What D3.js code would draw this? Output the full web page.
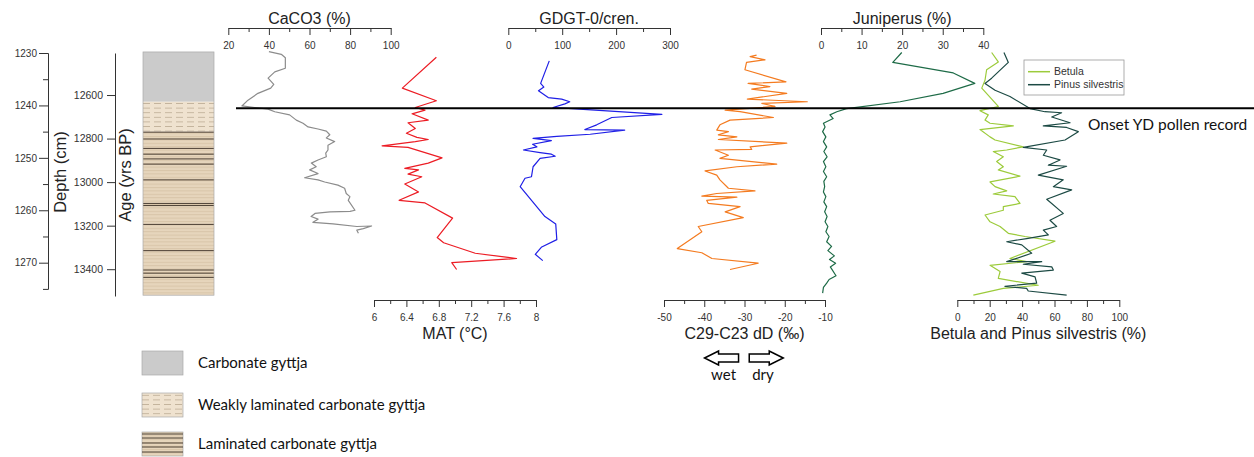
<!DOCTYPE html>
<html>
<head>
<meta charset="utf-8">
<script src="https://cdn.jsdelivr.net/npm/d3@7"></script>
<style>
body{margin:0;background:#fff;}
svg{display:block;}
</style>
</head>
<body>
<div id="chart"></div>
<script>
// depths in cm
let caco3Depth = [1229.75,1230.25,1230.9,1232.9,1233.6,1234.8,1236,1236.7,1237.7,1239,1240.1,1240.4,1240.7,1241.2,1241.8,1242.8,1243.4,1244.1,1244.5,1244.9,1245.6,1246.2,1246.9,1247.6,1248.5,1249.1,1249.8,1250.4,1251,1251.7,1252.3,1253,1253.8,1254.2,1254.6,1255.2,1255.8,1256.8,1257.4,1258.1,1260,1260.2,1260.3,1260.6,1261.2,1261.7,1262.3,1262.6,1263.1,1263,1263.5,1263.8,1264.4];
let caco3Values = [40,46.1,48.1,48.1,42.9,39.6,42.4,40.9,34.6,29.7,26.7,33,39.6,42.9,50.2,53.5,56.8,59.3,64.2,68.3,70,68.3,72.4,69.1,69.1,68,68.3,64.2,60.9,63.3,60.1,64.2,57.6,64.2,67.5,74,77.3,78.1,79.9,79.1,82.4,80,70.1,62.7,60.8,64.2,61.7,71.6,83.3,90.6,86.5,83.3,84.1];

let matDepth = [1230.8,1236.7,1239.1,1240.4,1240.9,1241.6,1242.8,1243.3,1244.4,1245.3,1246.1,1246.5,1246.9,1247.7,1248,1250,1251,1252,1252.3,1253.1,1253.6,1255,1256.5,1258.1,1258.6,1261.5,1265.2,1266.2,1268.2,1269.2,1270,1271.3];
let matValues = [6.77,6.35,6.77,6.51,6.63,6.47,6.67,6.42,6.51,6.40,6.53,6.67,6.51,6.10,6.42,6.84,6.67,6.38,6.55,6.42,6.59,6.38,6.55,6.31,6.63,6.97,6.78,6.86,7.25,7.76,6.96,7.02];

let gdgtDepth = [1231.5,1235.8,1236.5,1237.2,1238.5,1238.8,1239.3,1239.7,1240.4,1240.7,1241.7,1242.3,1243.7,1244.6,1244.7,1245.5,1245.9,1246.3,1246.7,1247.4,1247.9,1248.5,1249,1249.3,1249.7,1250.1,1251.7,1253.6,1253.9,1255.5,1261.2,1262.6,1265.6,1267,1268.4,1269.6];
let gdgtValues = [76,60,66,56,74,99,114,105,83,132,285,192,164,142,216,152,90,46,80,45,53,28,59,80,87,59,46,43,31,22,68,88,90,62,50,64];

let dDDepth = [1230.4,1230.7,1231.3,1231.8,1233.2,1235.5,1235.8,1236.4,1236.9,1237.7,1238.8,1239.3,1239.6,1240.2,1240.9,1241.2,1242.3,1242.8,1243.7,1244.7,1245,1245.6,1246,1246.5,1247.2,1247.9,1248.4,1248.5,1249.5,1250.1,1251.2,1251.7,1252.5,1253.3,1254.2,1255.8,1256.3,1256.8,1257.3,1257.5,1258.1,1258.7,1259.3,1260.3,1261.4,1263.1,1264.1,1267.3,1268.1,1269.2,1270.1,1271.3];
let dDValues = [-27,-28.6,-24.9,-29.5,-29.9,-19.7,-29.1,-23.7,-28.2,-19.5,-29.3,-14.4,-25.7,-22.4,-34.8,-31.1,-22.8,-33.6,-36.1,-36.9,-34,-36.5,-31.9,-36.5,-19.5,-28.6,-28.2,-37.3,-34,-36.1,-22,-31.9,-39.8,-36.9,-36.1,-34,-27.4,-36.9,-40.6,-31.9,-39.4,-39,-31.1,-34.8,-30.3,-41.5,-40.6,-46.7,-40.6,-38.1,-26.6,-33.6];

let junDepth = [1229.9,1231.8,1233.8,1235.8,1237.7,1239.3,1240.6,1241.2,1241.8,1242.5,1243.4,1244.1,1245,1246,1246.9,1247.9,1248.8,1249.8,1250.7,1251.7,1252.6,1253.6,1254.5,1255.5,1256.5,1257.4,1258.4,1259.3,1260.3,1261.2,1262.2,1263.1,1264.1,1265,1266,1266.9,1267.7,1268.7,1269.4,1270.1,1270.8,1272.5,1273.2,1273.9,1274.7,1275.8];
let junValues = [19.9,17.7,32.6,37.9,30.1,19.5,6.3,3.9,2.2,3,0.6,1,0.4,1.2,0.6,1.4,0.7,1.5,0.6,1.2,0.6,1.4,0.7,0.9,0.6,1.2,0.7,1.4,0.9,1.5,1,1.7,1.2,2,1.4,2.6,1.7,3.3,2.1,3.6,2.3,3.7,2,1.4,0.6,0.4];

let betulaDepth = [1229.9,1231.7,1233.2,1235.2,1236.7,1240.2,1241,1241.8,1242.8,1243.4,1243.9,1244.6,1246,1246.6,1247.9,1248.5,1248.8,1249.8,1250.7,1251.7,1252.3,1253.5,1254.6,1255.5,1256.3,1256.9,1257.4,1258.7,1259.3,1260,1260.9,1262.2,1263.1,1264.4,1265,1265.9,1269.2,1269.8,1270.5,1271.7,1273,1274.3,1274.9,1276.2];
let betulaValues = [21.2,25.3,18.1,17.1,15.1,25.3,14,19.1,17.1,20.2,34.6,14,20.2,23.3,40.7,30.5,22.2,28.4,24.3,28.4,25.3,38.7,20.2,23.3,30.5,22.2,35.6,38.7,28.4,28.4,17.1,20.2,26.4,31.5,41.8,60.3,32.5,42.8,20.2,26.4,25.3,50,28.4,9.9];

let pinusDepth = [1229.9,1231.8,1234.8,1235.8,1237.1,1238.3,1240.6,1241.2,1241.4,1242.2,1243.3,1243.9,1244.2,1245,1246.6,1248,1248.5,1249.5,1250.4,1251.4,1251.6,1253.3,1254.2,1255.5,1256.1,1257.9,1260.6,1261.9,1263.1,1263.8,1264.7,1265.4,1266,1266.6,1268.2,1269.8,1269.8,1270.3,1270.8,1271.4,1272,1272.7,1273.9,1274.5,1274.9,1275.4,1276.2];
let pinusValues = [28.8,31.5,21.2,17.1,23.3,32.5,44.9,54.1,64.4,58.3,69.6,53.1,67.5,74.7,66.5,40.7,55.2,53.1,63.4,56.2,67.5,50,65.4,59.3,70.6,55.2,65.4,57.2,61.3,53.1,56.2,42.8,30.5,39.8,45.9,30.5,52.1,40.7,58.3,59.3,39.8,48,49,29.4,42.8,43.8,67.5];

// lithology (cm): carbonate gyttja / weakly laminated / laminated
let lithoUnits = ["Carbonate gyttja","Weakly laminated carbonate gyttja","Laminated carbonate gyttja"];
let lithoTops = [1229.8,1239.3,1245.0];
let lithoBase = 1276.2;
let laminaDepths = [1245.1,1246.4,1248.2,1249.3,1250.2,1251.2,1254.2,1258.7,1259.1,1262.7,1267.7,1271.4,1272,1272.8];
let ydOnsetDepth = 1240.55;

let depthTicks = [1230,1240,1250,1260,1270];
let depthMinor = [1235,1245,1255,1265,1275];
let ageTicks = [12600,12800,13000,13200,13400];
let caco3Ticks = [20,40,60,80,100], caco3Minor = [30,50,70,90];
let matTicks = [6,6.4,6.8,7.2,7.6,8], matMinor = [6.2,6.6,7,7.4,7.8];
let gdgtTicks = [0,100,200,300], gdgtMinor = [50,150,250];
let dDTicks = [-50,-40,-30,-20,-10], dDMinor = [-45,-35,-25,-15];
let junTicks = [0,10,20,30,40], junMinor = [5,15,25,35];
let pollenTicks = [0,20,40,60,80,100], pollenMinor = [10,30,50,70,90];

let svg = d3.select("#chart").append("svg")
    .attr("width",1254)
    .attr("height",457);

let axisFont = "'Liberation Sans', Arial, sans-serif";
let noteFont = "Lato, 'Open Sans', sans-serif";
let ink = "#333";

let y = d3.scaleLinear().domain([1230,1275]).range([53,288.9]);
let ageY = d3.scaleLinear().domain([12407,13523]).range([53,296]);

// patterns for the lithology column
let defs = svg.append("defs");
let lam = defs.append("pattern").attr("id","lam").attr("patternUnits","userSpaceOnUse")
    .attr("width",10).attr("height",3.4);
lam.append("rect").attr("width",10).attr("height",3.4).attr("fill","#e6d5bc");
lam.append("rect").attr("width",10).attr("height",1).attr("fill","#d8c5a9");
let weak = defs.append("pattern").attr("id","weak").attr("patternUnits","userSpaceOnUse")
    .attr("width",11).attr("height",4.6);
weak.append("rect").attr("width",11).attr("height",4.6).attr("fill","#efe2cf");
weak.append("line").attr("x1",0).attr("x2",7).attr("y1",2.3).attr("y2",2.3)
    .attr("stroke","#bcab93").attr("stroke-width",0.8);
let fills = ["#cbcbcb","url(#weak)","url(#lam)"];

function styleAxis(g){
    g.selectAll("path, line").attr("stroke",ink).attr("stroke-width",1);
    g.attr("font-family",axisFont).attr("font-size",10.5);
    g.selectAll("text").attr("fill",ink);
}

// depth axis
let dg = svg.append("g").attr("transform","translate(48,0)");
dg.call(d3.axisLeft(y).tickValues(depthMinor).tickSize(5).tickSizeOuter(0).tickFormat(""));
dg.append("g").call(d3.axisLeft(y).tickValues(depthTicks).tickSize(9).tickSizeOuter(0).tickPadding(2).tickFormat(d3.format("d")));
styleAxis(dg);
svg.append("text").attr("transform","translate(66,172) rotate(-90)")
    .attr("text-anchor","middle").attr("font-family",axisFont).attr("font-size",16.5)
    .attr("fill","#222").text("Depth (cm)");

// age axis
let ag = svg.append("g").attr("transform","translate(115,0)");
ag.call(d3.axisLeft(ageY).tickValues(ageTicks).tickSize(8).tickSizeOuter(0).tickPadding(4).tickFormat(d3.format("d")));
styleAxis(ag);
svg.append("text").attr("transform","translate(131,175) rotate(-90)")
    .attr("text-anchor","middle").attr("font-family",axisFont).attr("font-size",16.5)
    .attr("fill","#222").text("Age (yrs BP)");

// lithology column
let litho = lithoTops.map(function(t,i){ return {top:t, bottom: i<lithoTops.length-1 ? lithoTops[i+1] : lithoBase, fill:fills[i]}; });
svg.selectAll(".litho").data(litho).enter().append("rect")
    .attr("class","litho")
    .attr("x",143).attr("width",71)
    .attr("y",function(d){return y(d.top);})
    .attr("height",function(d){return y(d.bottom)-y(d.top);})
    .attr("fill",function(d){return d.fill;});
svg.selectAll(".lamina").data(laminaDepths).enter().append("line")
    .attr("class","lamina")
    .attr("x1",143).attr("x2",214)
    .attr("y1",function(d){return y(d);}).attr("y2",function(d){return y(d);})
    .attr("stroke","#3b2f25").attr("stroke-width",0.9);
svg.append("rect").attr("x",143).attr("width",71)
    .attr("y",y(lithoTops[0])).attr("height",y(lithoBase)-y(lithoTops[0]))
    .attr("fill","none").attr("stroke","#a9a9a9").attr("stroke-width",0.7);

// one axis per record
function drawAxis(scale, yPos, major, minor, title, titleBelow){
    let g = svg.append("g").attr("transform","translate(0,"+yPos+")");
    g.call(d3.axisBottom(scale).tickValues(minor).tickSize(4).tickSizeOuter(0).tickFormat(""));
    g.append("g").call(d3.axisBottom(scale).tickValues(major).tickSize(7).tickSizeOuter(0).tickPadding(7)
        .tickFormat(function(d){return String(+d.toFixed(2));}));
    styleAxis(g);
    let r = scale.range();
    svg.append("text")
        .attr("x",(r[0]+r[1])/2)
        .attr("y", titleBelow ? yPos+39 : yPos-4)
        .attr("text-anchor","middle")
        .attr("font-family",axisFont).attr("font-size",16)
        .attr("fill","#222")
        .text(title);
}

let xCaco3 = d3.scaleLinear().domain([20,100]).range([228.3,390.7]);
let xMat = d3.scaleLinear().domain([6,8]).range([374,536]);
let xGdgt = d3.scaleLinear().domain([0,300]).range([508.3,670]);
let xDD = d3.scaleLinear().domain([-50,-10]).range([664,825]);
let xJun = d3.scaleLinear().domain([0,40]).range([821,983.3]);
let xPollen = d3.scaleLinear().domain([0,100]).range([957.3,1119.3]);

drawAxis(xCaco3, 28, caco3Ticks, caco3Minor, "CaCO3 (%)", false);
drawAxis(xGdgt, 28, gdgtTicks, gdgtMinor, "GDGT-0/cren.", false);
drawAxis(xJun, 28, junTicks, junMinor, "Juniperus (%)", false);
drawAxis(xMat, 300, matTicks, matMinor, "MAT (\u00B0C)", true);
drawAxis(xDD, 300, dDTicks, dDMinor, "C29-C23 dD (\u2030)", true);
drawAxis(xPollen, 300, pollenTicks, pollenMinor, "Betula and Pinus silvestris (%)", true);

let series = [
    {depth:caco3Depth, values:caco3Values, x:xCaco3, color:"#8c8c8c"},
    {depth:matDepth, values:matValues, x:xMat, color:"#ec1c24"},
    {depth:gdgtDepth, values:gdgtValues, x:xGdgt, color:"#1f1fe6"},
    {depth:dDDepth, values:dDValues, x:xDD, color:"#f47b20"},
    {depth:junDepth, values:junValues, x:xJun, color:"#1e6b47"},
    {depth:betulaDepth, values:betulaValues, x:xPollen, color:"#9ccb3b"},
    {depth:pinusDepth, values:pinusValues, x:xPollen, color:"#1c4a44"}
];

series.forEach(function(s){
    let pts = s.depth.map(function(d,i){return [s.values[i], d];});
    let line = d3.line()
        .x(function(p){return s.x(p[0]);})
        .y(function(p){return y(p[1]);});
    svg.append("path").datum(pts)
        .attr("d",line)
        .attr("fill","none")
        .attr("stroke",s.color)
        .attr("stroke-width",1.2)
        .attr("stroke-linejoin","round");
});

// pollen legend
let lg = svg.append("g").attr("transform","translate(1024,60)");
lg.append("rect").attr("width",100).attr("height",35).attr("fill","#fff")
    .attr("stroke","#9a9a9a").attr("stroke-width",0.8);
[["Betula","#9ccb3b"],["Pinus silvestris","#1c4a44"]].forEach(function(e,i){
    lg.append("line").attr("x1",4).attr("x2",26).attr("y1",11.7+i*13).attr("y2",11.7+i*13)
        .attr("stroke",e[1]).attr("stroke-width",1.5);
    lg.append("text").attr("x",30).attr("y",15.4+i*13)
        .attr("font-family",axisFont).attr("font-size",10.5).attr("fill",ink).text(e[0]);
});

// YD onset line
svg.append("line").attr("x1",236).attr("x2",1254)
    .attr("y1",y(ydOnsetDepth)).attr("y2",y(ydOnsetDepth))
    .attr("stroke","#000").attr("stroke-width",2);
svg.append("text").attr("x",1088).attr("y",129.5)
    .attr("font-family",noteFont).attr("font-size",15.5).attr("fill","#111")
    .text("Onset YD pollen record");

// wet / dry arrows under the dD axis
function arrow(cx, dir){
    let pts = [[-17,0],[-3,-7],[-3,-4],[17,-4],[17,4],[-3,4],[-3,7]];
    return "M" + pts.map(function(p){return (cx+dir*p[0])+","+(358+p[1]);}).join("L") + "Z";
}
svg.append("path").attr("d",arrow(xDD(-35.7),1)).attr("fill","#fff").attr("stroke","#000").attr("stroke-width",1.5);
svg.append("path").attr("d",arrow(xDD(-24.6),-1)).attr("fill","#fff").attr("stroke","#000").attr("stroke-width",1.5);
svg.append("text").attr("x",xDD(-35.2)).attr("y",380).attr("text-anchor","middle")
    .attr("font-family",noteFont).attr("font-size",15).attr("fill","#111").text("wet");
svg.append("text").attr("x",xDD(-25.4)).attr("y",380).attr("text-anchor","middle")
    .attr("font-family",noteFont).attr("font-size",15).attr("fill","#111").text("dry");

// lithology legend
let ll = svg.selectAll(".lleg").data(lithoUnits).enter().append("g")
    .attr("class","lleg")
    .attr("transform",function(d,i){return "translate(142,"+[351,393,432][i]+")";});
ll.append("rect").attr("width",41).attr("height",24)
    .attr("fill",function(d,i){return fills[i];})
    .attr("stroke","#a9a9a9").attr("stroke-width",0.7);
ll.filter(function(d,i){return i==2;}).selectAll("line").data([2,6,11,15,20]).enter().append("line")
    .attr("x1",0).attr("x2",41)
    .attr("y1",function(d){return d;}).attr("y2",function(d){return d;})
    .attr("stroke","#3b2f25").attr("stroke-width",0.9);
ll.append("text").attr("x",56).attr("y",17)
    .attr("font-family",noteFont).attr("font-size",15).attr("fill","#111")
    .text(function(d){return d;});
</script>
</body>
</html>
